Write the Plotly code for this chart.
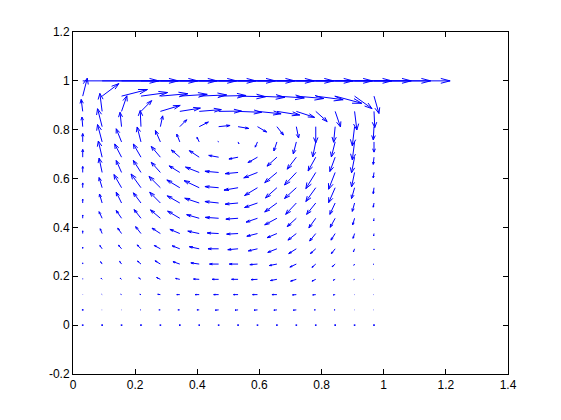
import math
import plotly.graph_objects as go

# grid positions (cell-centred in x, nodal in y)
x_pos = [0.03125, 0.09375, 0.15625, 0.21875, 0.28125, 0.34375, 0.40625, 0.46875,
         0.53125, 0.59375, 0.65625, 0.71875, 0.78125, 0.84375, 0.90625, 0.96875]
y_pos = [0.0, 0.0625, 0.125, 0.1875, 0.25, 0.3125, 0.375, 0.4375, 0.5,
         0.5625, 0.625, 0.6875, 0.75, 0.8125, 0.875, 0.9375, 1.0]

# horizontal velocity, one row per y_pos (bottom to top)
u_rows = [
    [0, 0, 0, 0, 0, 0, 0, 0, 0, 0, 0, 0, 0, 0, 0, 0],
    [0, -0.005, -0.005, -0.008, -0.02, -0.025, -0.03, -0.045, -0.04, -0.045, -0.04, -0.04, -0.02, -0.015, -0.005, -0.005],
    [0, -0.005, -0.01, -0.015, -0.035, -0.04, -0.055, -0.065, -0.06, -0.065, -0.065, -0.05, -0.04, -0.025, -0.005, -0.005],
    [0, -0.015, -0.02, -0.03, -0.05, -0.055, -0.075, -0.085, -0.085, -0.085, -0.085, -0.075, -0.05, -0.025, -0.01, -0.005],
    [0, -0.02, -0.025, -0.045, -0.07, -0.09, -0.11, -0.12, -0.115, -0.1, -0.1, -0.085, -0.05, -0.04, -0.01, -0.01],
    [0, -0.03, -0.04, -0.05, -0.08, -0.1, -0.13, -0.14, -0.135, -0.12, -0.12, -0.1, -0.07, -0.05, -0.015, 0],
    [0, -0.025, -0.05, -0.07, -0.11, -0.13, -0.15, -0.15, -0.15, -0.14, -0.13, -0.11, -0.08, -0.055, -0.02, -0.005],
    [0, -0.04, -0.07, -0.09, -0.13, -0.16, -0.165, -0.175, -0.16, -0.15, -0.16, -0.12, -0.09, -0.065, -0.025, -0.005],
    [0, -0.035, -0.07, -0.1, -0.14, -0.165, -0.19, -0.18, -0.17, -0.17, -0.16, -0.14, -0.12, -0.07, -0.03, -0.01],
    [0, -0.04, -0.1, -0.13, -0.15, -0.17, -0.2, -0.18, -0.185, -0.17, -0.15, -0.155, -0.13, -0.086, -0.04, -0.01],
    [0, -0.04, -0.07, -0.1, -0.12, -0.14, -0.18, -0.18, -0.17, -0.18, -0.16, -0.155, -0.13, -0.086, -0.04, -0.01],
    [0, -0.05, -0.09, -0.1, -0.12, -0.11, -0.13, -0.13, -0.12, -0.125, -0.13, -0.12, -0.1, -0.07, -0.04, -0.01],
    [0, -0.06, -0.07, -0.05, -0.065, -0.04, -0.03, -0.01, 0.01, -0.03, -0.04, -0.04, -0.04, -0.05, -0.03, 0],
    [-0.01, -0.06, -0.02, -0.01, 0.03, 0.09, 0.12, 0.15, 0.14, 0.12, 0.086, 0.03, 0.0, -0.02, -0.03, -0.01],
    [-0.02, -0.03, 0.07, 0.14, 0.26, 0.27, 0.29, 0.30, 0.31, 0.31, 0.30, 0.24, 0.15, 0.07, 0.03, 0.01],
    [0.06, 0.22, 0.34, 0.35, 0.36, 0.36, 0.36, 0.36, 0.36, 0.36, 0.36, 0.36, 0.36, 0.35, 0.23, 0.065],
    [1, 1, 1, 1, 1, 1, 1, 1, 1, 1, 1, 1, 1, 1, 1, 1],
]

# vertical velocity, one row per y_pos (bottom to top)
v_rows = [
    [0, 0, 0, 0, 0, 0, 0, 0, 0, 0, 0, 0, 0, 0, 0, 0],
    [0, 0, 0, 0, 0, 0, 0, -0.005, -0.005, -0.005, -0.005, -0.005, 0, 0, 0, 0],
    [0.005, 0.005, 0.005, 0.005, 0.005, 0, 0, 0, 0, 0, 0, -0.005, -0.005, -0.005, 0, 0],
    [0.01, 0.02, 0.02, 0.025, 0.03, 0.015, 0.005, 0, 0, -0.005, -0.02, -0.03, -0.03, -0.015, -0.005, 0],
    [0.02, 0.04, 0.045, 0.05, 0.055, 0.04, 0.02, 0, 0, -0.01, -0.025, -0.05, -0.055, -0.045, -0.02, -0.005],
    [0.03, 0.055, 0.06, 0.065, 0.055, 0.05, 0.035, 0, -0.015, -0.035, -0.06, -0.08, -0.08, -0.08, -0.05, -0.02],
    [0.045, 0.08, 0.09, 0.115, 0.09, 0.07, 0.04, 0.01, -0.01, -0.045, -0.07, -0.11, -0.125, -0.11, -0.08, -0.04],
    [0.055, 0.11, 0.13, 0.145, 0.14, 0.12, 0.06, 0.015, -0.015, -0.065, -0.11, -0.14, -0.16, -0.15, -0.11, -0.045],
    [0.065, 0.15, 0.18, 0.17, 0.18, 0.12, 0.08, 0.025, -0.02, -0.075, -0.15, -0.19, -0.19, -0.19, -0.14, -0.07],
    [0.08, 0.17, 0.22, 0.23, 0.19, 0.13, 0.12, 0.02, -0.04, -0.13, -0.17, -0.18, -0.23, -0.25, -0.18, -0.1],
    [0.1, 0.24, 0.2, 0.2, 0.17, 0.11, 0.09, 0.02, -0.02, -0.09, -0.17, -0.21, -0.27, -0.28, -0.24, -0.09],
    [0.13, 0.27, 0.22, 0.22, 0.18, 0.12, 0.11, 0.03, -0.03, -0.09, -0.15, -0.2, -0.23, -0.24, -0.26, -0.12],
    [0.14, 0.29, 0.22, 0.25, 0.19, 0.13, 0.077, 0.01, -0.03, -0.087, -0.15, -0.2, -0.25, -0.25, -0.3, -0.17],
    [0.16, 0.3, 0.24, 0.27, 0.18, 0.115, 0.077, 0.02, -0.03, -0.09, -0.14, -0.19, -0.27, -0.26, -0.32, -0.22],
    [0.2, 0.3, 0.26, 0.18, 0.1, 0.055, 0.03, 0.005, -0.015, -0.04, -0.06, -0.1, -0.17, -0.26, -0.31, -0.27],
    [0.3, 0.21, 0.11, 0.06, 0.04, 0.03, 0.02, 0.01, -0.01, -0.02, -0.03, -0.04, -0.06, -0.12, -0.21, -0.29],
    [0, 0, 0, 0, 0, 0, 0, 0, 0, 0, 0, 0, 0, 0, 0, 0],
]

x_ticks = [0, 0.2, 0.4, 0.6, 0.8, 1.0, 1.2, 1.4]
x_tick_text = ["0", "0.2", "0.4", "0.6", "0.8", "1", "1.2", "1.4"]
y_ticks = [-0.2, 0, 0.2, 0.4, 0.6, 0.8, 1.0, 1.2]
y_tick_text = ["-0.2", "0", "0.2", "0.4", "0.6", "0.8", "1", "1.2"]

# quiver style (MATLAB-like)
SCALE = 0.245
ALPHA = 0.33
BETA = 0.33
HEAD_CAP = 0.03
BLUE = "rgb(0,0,255)"

lx, ly = [], []
dx_pts, dy_pts = [], []
for j, yv in enumerate(y_pos):
    for i, xv in enumerate(x_pos):
        du = SCALE * u_rows[j][i]
        dv = SCALE * v_rows[j][i]
        L = math.hypot(du, dv)
        if L < 1e-9:
            dx_pts.append(xv)
            dy_pts.append(yv)
            continue
        tx, ty = xv + du, yv + dv
        lx += [xv, tx, None]
        ly += [yv, ty, None]
        a = min(ALPHA, HEAD_CAP / L)
        lx += [tx - a * (du + BETA * dv), tx, tx - a * (du - BETA * dv), None]
        ly += [ty - a * (dv - BETA * du), ty, ty - a * (dv + BETA * du), None]

fig = go.Figure()
fig.add_trace(go.Scatter(x=lx, y=ly, mode="lines", line=dict(color=BLUE, width=1),
                         hoverinfo="skip", showlegend=False))
fig.add_trace(go.Scatter(x=dx_pts, y=dy_pts, mode="markers",
                         marker=dict(color=BLUE, size=1.6, symbol="square", line=dict(width=0)),
                         hoverinfo="skip", showlegend=False))

axis_common = dict(showgrid=False, zeroline=False, showline=True, linecolor="black", linewidth=1,
                   mirror="allticks", ticks="inside", ticklen=5, tickcolor="black",
                   tickfont=dict(family="Liberation Sans, Arial, sans-serif", size=12, color="black"))
# page body has an 8px margin, so the figure is made 16px smaller and margins shifted
fig.update_layout(
    width=545, height=404,
    margin=dict(l=65, r=45, t=24, b=38),
    paper_bgcolor="white", plot_bgcolor="white",
    xaxis=dict(range=[0, 1.4], tickvals=x_ticks, ticktext=x_tick_text, **axis_common),
    yaxis=dict(range=[-0.2, 1.2], tickvals=y_ticks, ticktext=y_tick_text, **axis_common),
)
fig.write_html("out.html")
